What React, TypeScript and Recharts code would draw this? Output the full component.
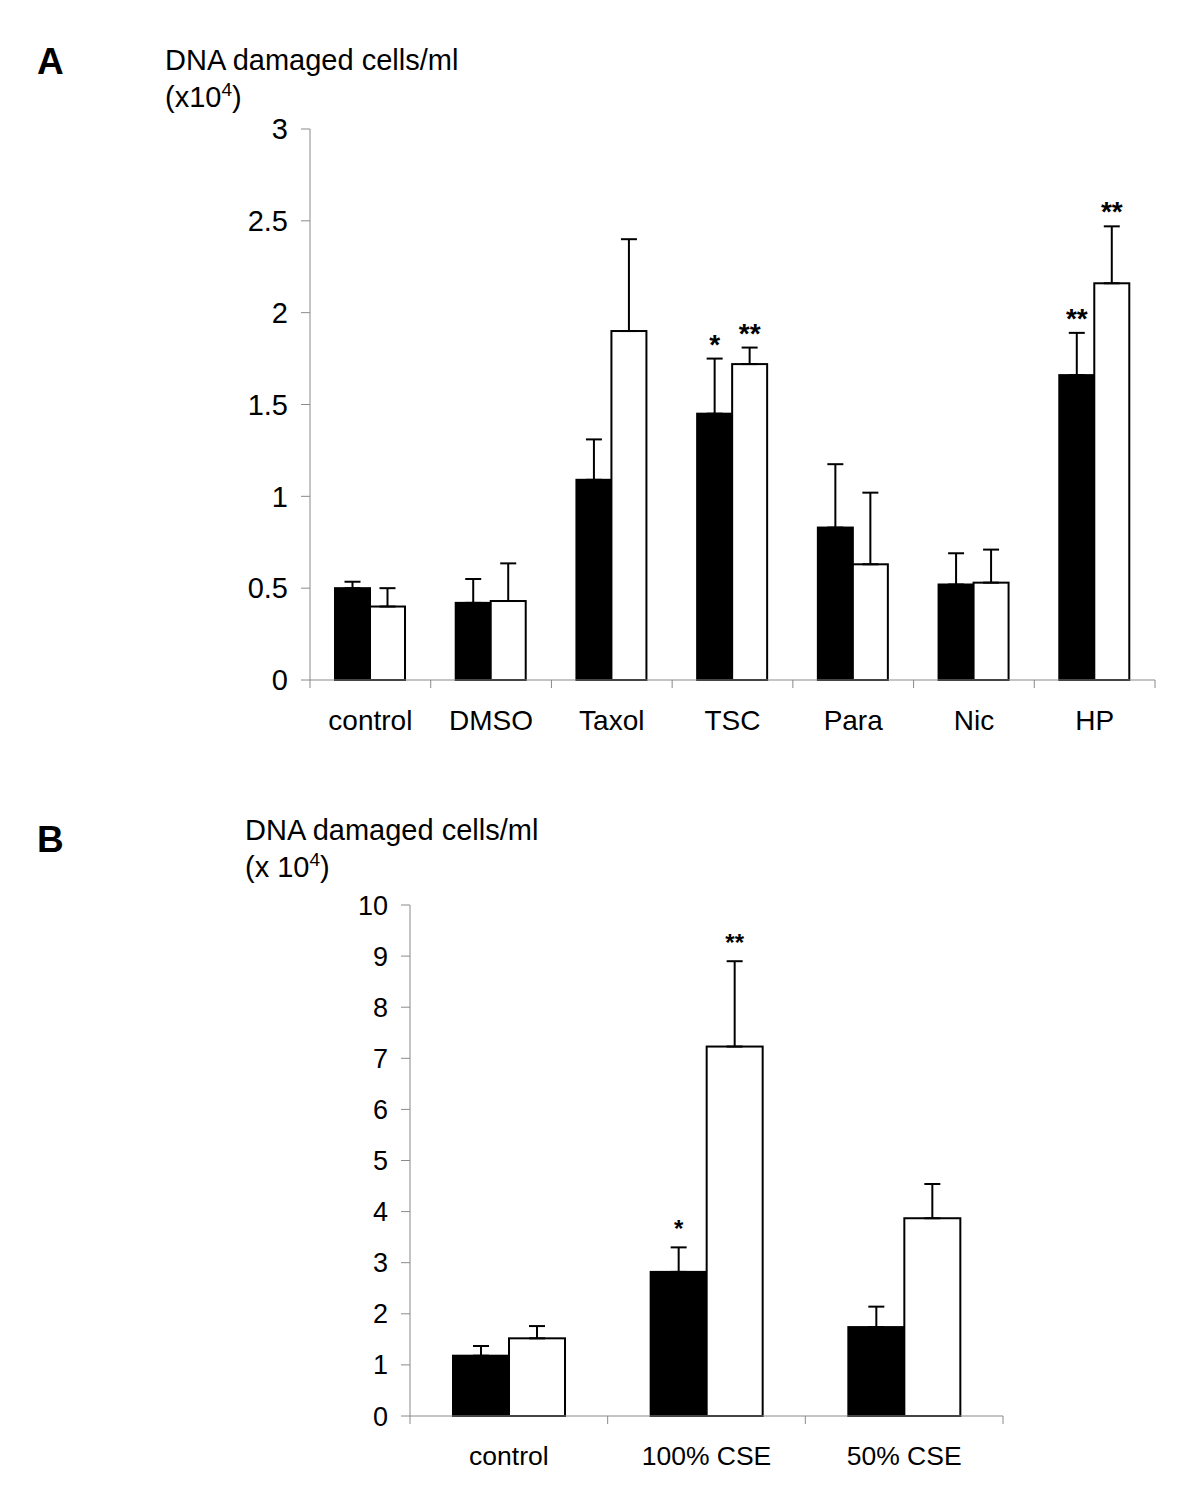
import { BarChart, Bar, XAxis, YAxis, ErrorBar } from "recharts";

// Panel A: DNA damaged cells/ml (x10^4)
const categoriesA = ["control", "DMSO", "Taxol", "TSC", "Para", "Nic", "HP"];
const blackA = [0.5, 0.42, 1.09, 1.45, 0.83, 0.52, 1.66];
const blackErrA = [0.035, 0.13, 0.22, 0.3, 0.345, 0.17, 0.23];
const blackStarsA = ["", "", "", "*", "", "", "**"];
const whiteA = [0.4, 0.43, 1.9, 1.72, 0.63, 0.53, 2.16];
const whiteErrA = [0.1, 0.205, 0.5, 0.09, 0.39, 0.18, 0.31];
const whiteStarsA = ["", "", "", "**", "", "", "**"];
const ticksA = [0, 0.5, 1, 1.5, 2, 2.5, 3];

// Panel B
const categoriesB = ["control", "100% CSE", "50% CSE"];
const blackB = [1.18, 2.82, 1.74];
const blackErrB = [0.19, 0.48, 0.4];
const blackStarsB = ["", "*", ""];
const whiteB = [1.52, 7.23, 3.87];
const whiteErrB = [0.24, 1.67, 0.67];
const whiteStarsB = ["", "**", ""];
const ticksB = [0, 1, 2, 3, 4, 5, 6, 7, 8, 9, 10];

const FONT = '"Liberation Sans", Arial, sans-serif';
const AXIS_GREY = "#8a8a8a";
const X_TICK_SIZE = 8;
const X_TICK_MARGIN = 22;

type Row = {
  name: string;
  black: number;
  blackErr: number[];
  blackStar: string;
  white: number;
  whiteErr: number[];
  whiteStar: string;
};

function buildRows(
  categories: string[],
  black: number[],
  blackErr: number[],
  blackStars: string[],
  white: number[],
  whiteErr: number[],
  whiteStars: string[]
): Row[] {
  return categories.map((name, i) => ({
    name,
    black: black[i],
    blackErr: [0, blackErr[i]],
    blackStar: blackStars[i],
    white: white[i],
    whiteErr: [0, whiteErr[i]],
    whiteStar: whiteStars[i],
  }));
}

const dataA = buildRows(categoriesA, blackA, blackErrA, blackStarsA, whiteA, whiteErrA, whiteStarsA);
const dataB = buildRows(categoriesB, blackB, blackErrB, blackStarsB, whiteB, whiteErrB, whiteStarsB);

// bar rect plus significance stars sitting above the error bar
function barShape(key: "black" | "white", fill: string, starGap: number, starSize: number) {
  return (props: any) => {
    const { x, y, width, height, payload } = props;
    const v = payload[key];
    const err = payload[key + "Err"][1];
    const star = payload[key + "Star"];
    const errTop = y - (v > 0 ? (err * height) / v : 0);
    return (
      <g>
        <rect x={x} y={y} width={width} height={height} fill={fill} stroke="#000" strokeWidth={2} />
        {star ? (
          <text
            x={x + width / 2}
            y={errTop - starGap}
            textAnchor="middle"
            fontSize={starSize}
            fontWeight="bold"
            fontFamily={FONT}
            fill="#000"
          >
            {star}
          </text>
        ) : null}
      </g>
    );
  };
}

// category label with Excel-style tick marks between categories
function categoryTick(band: number, count: number, fontSize: number) {
  return (props: any) => {
    const { x, y, payload, index } = props;
    const axisY = y - X_TICK_SIZE - X_TICK_MARGIN;
    const left = x - band / 2;
    const right = x + band / 2;
    return (
      <g>
        <line x1={left} x2={left} y1={axisY} y2={axisY + X_TICK_SIZE} stroke={AXIS_GREY} />
        {index === count - 1 && (
          <line x1={right} x2={right} y1={axisY} y2={axisY + X_TICK_SIZE} stroke={AXIS_GREY} />
        )}
        <text x={x} y={y} dy="0.71em" textAnchor="middle" fontSize={fontSize} fontFamily={FONT} fill="#000">
          {payload.value}
        </text>
      </g>
    );
  };
}

const W = 1200;
const A_TOP = 0;
const A_H = 770;
const A_MARGIN = { top: 129, right: 45, bottom: 0, left: 230 };
const B_TOP = 800;
const B_H = 698;
const B_MARGIN = { top: 105, right: 197, bottom: 0, left: 330 };
const Y_AXIS_W = 80;

const bandA = (W - A_MARGIN.left - A_MARGIN.right - Y_AXIS_W) / categoriesA.length;
const bandB = (W - B_MARGIN.left - B_MARGIN.right - Y_AXIS_W) / categoriesB.length;

export default function App() {
  return (
    <div style={{ position: "absolute", left: 0, top: 0, width: W, height: 1498, background: "#fff", fontFamily: FONT }}>
      {/* Panel A */}
      <div style={{ position: "absolute", left: 0, top: A_TOP }}>
        <BarChart width={W} height={A_H} data={dataA} margin={A_MARGIN} barGap={0} barSize={35}>
          <XAxis
            dataKey="name"
            height={A_H - A_MARGIN.top - 551}
            axisLine={{ stroke: AXIS_GREY }}
            tickLine={false}
            tickSize={X_TICK_SIZE}
            tickMargin={X_TICK_MARGIN}
            interval={0}
            tick={categoryTick(bandA, categoriesA.length, 28)}
          />
          <YAxis
            width={Y_AXIS_W}
            domain={[0, 3]}
            ticks={ticksA}
            interval={0}
            axisLine={{ stroke: AXIS_GREY }}
            tickLine={{ stroke: AXIS_GREY }}
            tickSize={9}
            tickMargin={13}
            tick={{ fontSize: 29, fill: "#000", fontFamily: FONT }}
          />
          <Bar dataKey="black" isAnimationActive={false} shape={barShape("black", "#000", 5, 28)}>
            <ErrorBar dataKey="blackErr" width={8} stroke="#000" strokeWidth={2} isAnimationActive={false} />
          </Bar>
          <Bar dataKey="white" isAnimationActive={false} shape={barShape("white", "#fff", 5, 28)}>
            <ErrorBar dataKey="whiteErr" width={8} stroke="#000" strokeWidth={2} isAnimationActive={false} />
          </Bar>
        </BarChart>
      </div>

      {/* Panel B */}
      <div style={{ position: "absolute", left: 0, top: B_TOP }}>
        <BarChart width={W} height={B_H} data={dataB} margin={B_MARGIN} barGap={0} barSize={56}>
          <XAxis
            dataKey="name"
            height={B_H - B_MARGIN.top - 511}
            axisLine={{ stroke: AXIS_GREY }}
            tickLine={false}
            tickSize={X_TICK_SIZE}
            tickMargin={X_TICK_MARGIN}
            interval={0}
            tick={categoryTick(bandB, categoriesB.length, 26.5)}
          />
          <YAxis
            width={Y_AXIS_W}
            domain={[0, 10]}
            ticks={ticksB}
            interval={0}
            axisLine={{ stroke: AXIS_GREY }}
            tickLine={{ stroke: AXIS_GREY }}
            tickSize={9}
            tickMargin={13}
            tick={{ fontSize: 27, fill: "#000", fontFamily: FONT }}
          />
          <Bar dataKey="black" isAnimationActive={false} shape={barShape("black", "#000", 10, 24)}>
            <ErrorBar dataKey="blackErr" width={8} stroke="#000" strokeWidth={2} isAnimationActive={false} />
          </Bar>
          <Bar dataKey="white" isAnimationActive={false} shape={barShape("white", "#fff", 10, 24)}>
            <ErrorBar dataKey="whiteErr" width={8} stroke="#000" strokeWidth={2} isAnimationActive={false} />
          </Bar>
        </BarChart>
      </div>

      {/* panel letters and axis titles */}
      <svg
        width={W}
        height={1498}
        style={{ position: "absolute", left: 0, top: 0, pointerEvents: "none" }}
        fontFamily={FONT}
      >
        <text x={37} y={74} fontSize={37} fontWeight="bold" fill="#000">A</text>
        <text x={165} y={70} fontSize={29} fill="#000">DNA damaged cells/ml</text>
        <text x={165} y={107} fontSize={29} fill="#000">
          (x10<tspan dy={-11} fontSize={19}>4</tspan><tspan dy={11}>)</tspan>
        </text>

        <text x={37} y={852} fontSize={37} fontWeight="bold" fill="#000">B</text>
        <text x={245} y={840} fontSize={29} fill="#000">DNA damaged cells/ml</text>
        <text x={245} y={877} fontSize={29} fill="#000">
          (x 10<tspan dy={-11} fontSize={19}>4</tspan><tspan dy={11}>)</tspan>
        </text>
      </svg>
    </div>
  );
}
